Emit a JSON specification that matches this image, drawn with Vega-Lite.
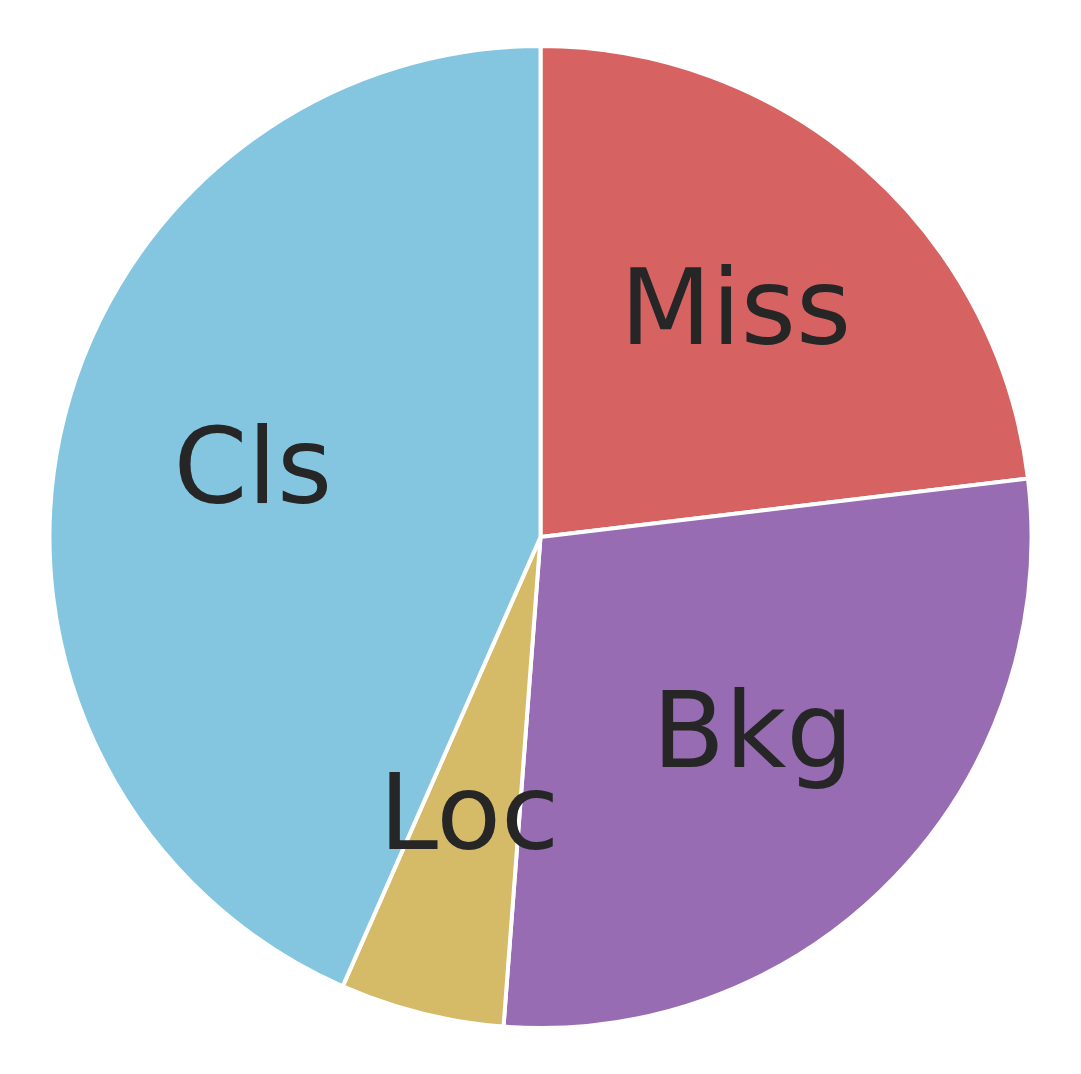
{
  "$schema": "https://vega.github.io/schema/vega-lite/v6.json",
  "width": 1081,
  "height": 1074,
  "autosize": {"type": "fit", "contains": "padding"},
  "background": "white",
  "view": {"stroke": null},
  "data": {
    "values": [
      {"label": "Miss", "value": 23.1, "order": 1},
      {"label": "Bkg", "value": 28.1, "order": 2},
      {"label": "Loc", "value": 5.4, "order": 3},
      {"label": "Cls", "value": 43.4, "order": 4}
    ]
  },
  "encoding": {
    "theta": {"field": "value", "type": "quantitative", "stack": true},
    "order": {"field": "order", "type": "quantitative"}
  },
  "layer": [
    {
      "mark": {"type": "arc", "outerRadius": 491, "stroke": "white", "strokeWidth": 4},
      "encoding": {
        "color": {
          "field": "label",
          "type": "nominal",
          "scale": {
            "domain": ["Miss", "Bkg", "Loc", "Cls"],
            "range": ["#d76262", "#976cb2", "#d5ba68", "#84c5e0"]
          },
          "legend": null
        }
      }
    },
    {
      "mark": {"type": "text", "radius": 294, "dy": -5, "font": "DejaVu Sans", "fontSize": 106, "fill": "#262626", "align": "center", "baseline": "middle"},
      "encoding": {
        "text": {"field": "label", "type": "nominal"}
      }
    }
  ]
}
